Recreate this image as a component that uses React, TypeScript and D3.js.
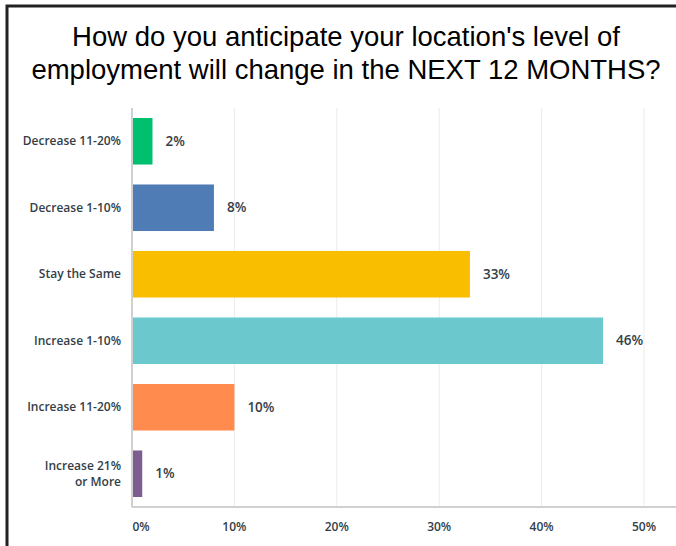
import React, { useEffect, useRef } from 'react';
import * as d3 from 'd3';

const categories = [
  ['Decrease 11-20%'],
  ['Decrease 1-10%'],
  ['Stay the Same'],
  ['Increase 1-10%'],
  ['Increase 11-20%'],
  ['Increase 21%', 'or More'],
];
const values = [2, 8, 33, 46, 10, 1];
const colors = ['#00bf6f', '#507cb6', '#f9be00', '#6bc8cd', '#ff8b4f', '#7d5e90'];
const xTicks = [0, 10, 20, 30, 40, 50];
const titleLines = [
  "How do you anticipate your location's level of",
  'employment will change in the NEXT 12 MONTHS?',
];

const width = 676;
const height = 546;

export default function App() {
  const ref = useRef<SVGSVGElement>(null);

  useEffect(() => {
    const svg = d3.select(ref.current);
    svg.selectAll('*').remove();

    const margin = { top: 108, left: 132, right: 32, bottom: 39 };
    const x = d3.scaleLinear().domain([0, 50]).range([margin.left, width - margin.right]);
    const y = d3
      .scaleBand<number>()
      .domain(d3.range(values.length))
      .range([margin.top, height - margin.bottom])
      .paddingInner(0.3)
      .paddingOuter(0.15);

    // frame
    svg.append('path').attr('d', `M7,${height} V6 H${width}`).attr('fill', 'none').attr('stroke', '#222').attr('stroke-width', 3);

    // title
    svg
      .append('g')
      .selectAll('text')
      .data(titleLines)
      .join('text')
      .attr('x', 346)
      .attr('y', (d, i) => 46 + i * 33)
      .attr('text-anchor', 'middle')
      .style('font-family', '"Liberation Sans", Arial, sans-serif')
      .style('font-size', '27.5px')
      .attr('fill', '#000')
      .text(d => d);

    // grid
    svg
      .append('g')
      .selectAll('line')
      .data(xTicks)
      .join('line')
      .attr('x1', d => x(d))
      .attr('x2', d => x(d))
      .attr('y1', margin.top)
      .attr('y2', height - margin.bottom)
      .attr('stroke', d => (d === 0 ? '#d0d0d0' : '#ebebeb'))
      .attr('stroke-width', d => (d === 0 ? 2 : 1));

    svg
      .append('line')
      .attr('x1', x(0))
      .attr('x2', width)
      .attr('y1', height - margin.bottom)
      .attr('y2', height - margin.bottom)
      .attr('stroke', '#d0d0d0')
      .attr('stroke-width', 2);

    // bars
    svg
      .append('g')
      .selectAll('rect')
      .data(values)
      .join('rect')
      .attr('x', x(0) + 1)
      .attr('y', (d, i) => y(i)!)
      .attr('width', d => x(d) - x(0) - 1)
      .attr('height', y.bandwidth())
      .attr('fill', (d, i) => colors[i]);

    const font = '"Open Sans", Lato, sans-serif';

    // value labels
    svg
      .append('g')
      .selectAll('text')
      .data(values)
      .join('text')
      .attr('x', d => x(d) + 13)
      .attr('y', (d, i) => y(i)! + y.bandwidth() / 2)
      .attr('dy', '0.35em')
      .style('font-family', font)
      .style('font-weight', 600)
      .style('font-size', '13.5px')
      .attr('fill', '#333e48')
      .text(d => `${d}%`);

    // category labels
    const cat = svg
      .append('g')
      .selectAll('text')
      .data(categories)
      .join('text')
      .attr('text-anchor', 'end')
      .style('font-family', font)
      .style('font-weight', 600)
      .style('font-size', '12px')
      .attr('fill', '#333e48')
      .attr('transform', (d, i) => `translate(${x(0) - 11},${y(i)! + y.bandwidth() / 2})`);
    cat
      .selectAll('tspan')
      .data(d => d.map((t, j) => ({ t, j, n: d.length })))
      .join('tspan')
      .attr('x', 0)
      .attr('y', d => (d.j - (d.n - 1) / 2) * 16.5)
      .attr('dy', '0.35em')
      .text(d => d.t);

    // x tick labels
    svg
      .append('g')
      .selectAll('text')
      .data(xTicks)
      .join('text')
      .attr('x', d => x(d) + (d === 0 ? 9 : 0))
      .attr('y', height - margin.bottom + 20)
      .attr('dy', '0.35em')
      .attr('text-anchor', 'middle')
      .style('font-family', font)
      .style('font-weight', 600)
      .style('font-size', '12px')
      .attr('fill', '#333e48')
      .text(d => `${d}%`);
  }, []);

  return (
    <svg
      ref={ref}
      width={width}
      height={height}
      style={{ position: 'absolute', left: 0, top: 0, background: '#fff' }}
    />
  );
}
